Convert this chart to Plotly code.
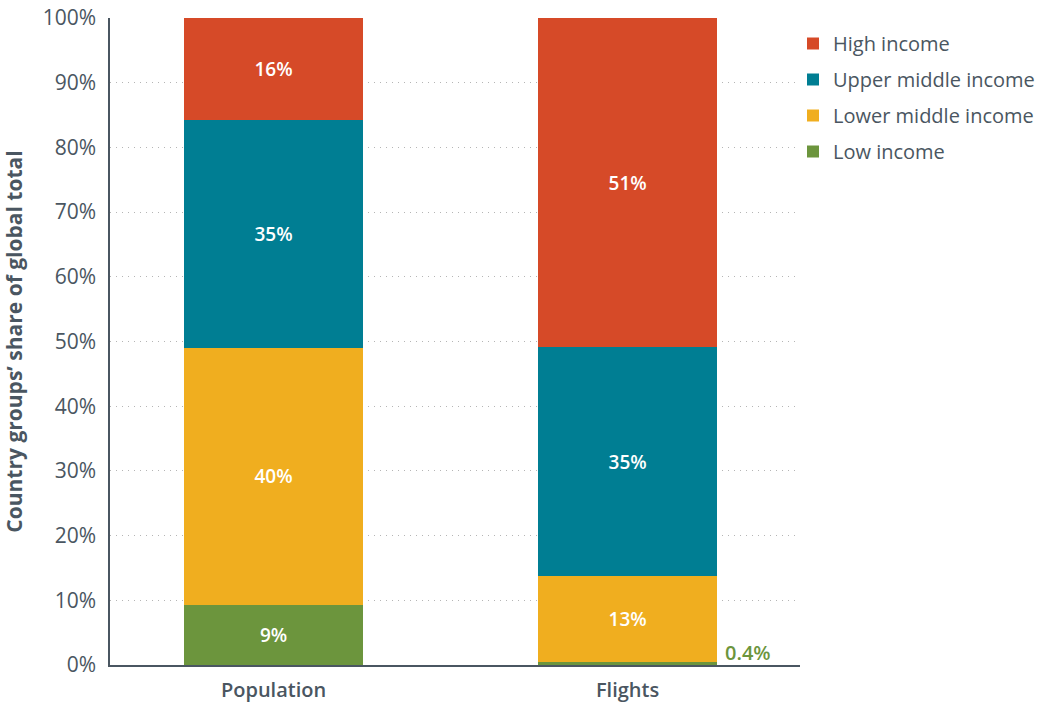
import plotly.graph_objects as go

categories = ["Population", "Flights"]
groups = ["Low income", "Lower middle income", "Upper middle income", "High income"]
colors = ["#6C953D", "#F0AE1F", "#007E93", "#D64A28"]
# Share of global total (%) per income group, for population and for flights
low_income = [9.3, 0.4]
lower_middle_income = [39.7, 13.4]
upper_middle_income = [35.2, 35.3]
high_income = [15.8, 50.9]
series = [low_income, lower_middle_income, upper_middle_income, high_income]

text_color = "#4A5661"
font_family = "Open Sans, Lato, sans-serif"

fig = go.Figure()
for i, (name, vals, col) in enumerate(zip(groups, series, colors)):
    # values too thin to hold a label get an outside annotation instead
    labels = [f"{v:.0f}%" if v >= 3 else "" for v in vals]
    fig.add_trace(go.Bar(
        x=categories, y=vals, name=name, marker=dict(color=col, line=dict(width=0)),
        text=labels, textposition="inside", insidetextanchor="middle", textangle=0,
        textfont=dict(color="white", size=19, family=font_family, weight=600),
        width=0.506, legendgroup=name, legendrank=4 - i, hoverinfo="skip",
    ))

# label for the thin low-income slice on the flights bar
fig.add_annotation(
    x=1, y=low_income[1], xref="x", yref="y", text=f"{low_income[1]:.1f}%",
    showarrow=False, xanchor="left", yanchor="bottom", xshift=95, yshift=-6,
    font=dict(color=colors[0], size=20, family=font_family, weight=600),
)

fig.update_layout(
    barmode="stack",
    width=1062, height=704,
    margin=dict(l=110, r=262, t=18, b=39),
    paper_bgcolor="white", plot_bgcolor="white",
    font=dict(family=font_family, color=text_color, size=18),
    legend=dict(
        x=1.0 - 7 / 690, y=1.0 - 6 / 647, xanchor="left", yanchor="top",
        xref="paper", yref="paper",
        traceorder="grouped", tracegroupgap=7,
        font=dict(size=20, color=text_color), itemwidth=30,
        bgcolor="rgba(0,0,0,0)",
    ),
    showlegend=True,
)
fig.update_xaxes(
    range=[-0.462, 1.487], showline=True, linecolor="#4A5661", linewidth=1.5,
    ticks="", ticklabelstandoff=6, automargin=False,
    tickfont=dict(size=20, color=text_color, family=font_family, weight=600),
    showgrid=False, zeroline=False,
)
fig.update_yaxes(
    range=[0, 100], dtick=10, ticksuffix="%", showline=True, linecolor="#4A5661",
    linewidth=1.5, ticks="", ticklabelstandoff=8, automargin=False,
    tickfont=dict(size=21, color=text_color),
    showgrid=True, gridcolor="#B5B5B5", griddash="1px,5px", gridwidth=1.3,
    zeroline=False,
    title=dict(text="Country groups’ share of global total", standoff=15,
               font=dict(size=21, color=text_color, weight="bold")),
)

fig.write_html("out.html")
